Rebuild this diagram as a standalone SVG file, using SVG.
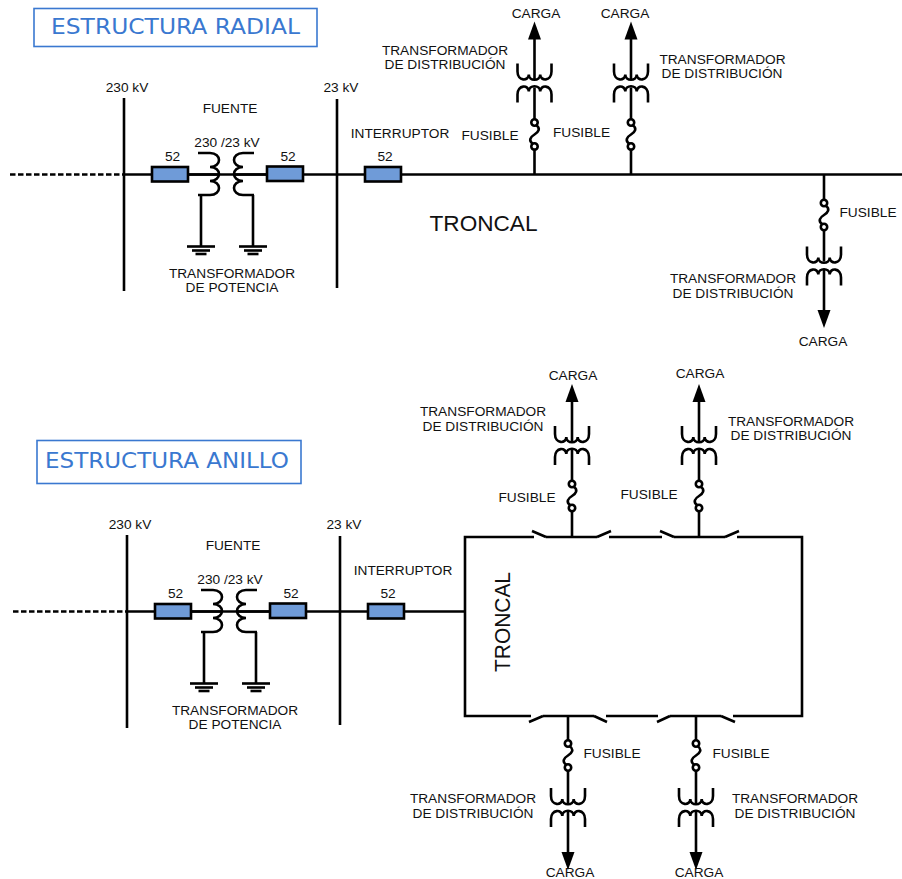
<svg xmlns="http://www.w3.org/2000/svg" width="902" height="879" viewBox="0 0 902 879">
<style>
text{font-family:"Liberation Sans",Arial,sans-serif;font-size:13.7px;fill:#111;text-anchor:middle}
.w{stroke:#000;stroke-width:2.6;fill:none}
.t{stroke:#000;stroke-width:2.6;fill:none}
.d{stroke:#000;stroke-width:2.4;fill:none;stroke-dasharray:5.5 2.5}
.br{fill:#6f9bd8;stroke:#000;stroke-width:2.6}
.title{fill:#fff;stroke:#3a78d0;stroke-width:1.6}
.tt{font-family:"DejaVu Sans",Verdana,sans-serif;font-size:21px;fill:#3a78d0;text-anchor:start}
.big{font-size:21.5px;text-anchor:start}
</style>
<defs>
<path id="arrow" d="M-6.5 0H6.5L0 -18Z" fill="#000"/>
<g id="coil"><path class="t" d="M-17 -111V-103C-17 -93 -5.7 -93 -5.7 -100C-5.7 -93 5.7 -93 5.7 -100C5.7 -93 17 -93 17 -103V-111"/><path class="t" d="M-17 -72V-80C-17 -90 -5.7 -90 -5.7 -83C-5.7 -90 5.7 -90 5.7 -83C5.7 -90 17 -90 17 -80V-72"/></g>
<g id="fuse"><circle class="t" cx="0" cy="-12" r="3.2"/><circle class="t" cx="0" cy="12" r="3.2"/><path class="t" d="M1.5 -9.5C6.500 -6 4 -2.500 0 0C-4 2.500 -6.500 6 -1.500 9.500"/></g>
<g id="gnd"><path class="t" d="M-14 0H14"/><path class="t" d="M-9 4H9"/><path class="t" d="M-5.500 7.500H5.500"/></g>
</defs>

<g id="connectors">
<path class="d" d="M10 174.500H122"/>
<path class="w" d="M122 174.500H902"/>
<path class="w" d="M124 98V291M337 99V288"/>
<path class="w" d="M201 195V246M253 195V246"/>
<path class="w" d="M534.500 174.500V148.500M534.500 119.500V87.500M534.500 79.500V39M631 174.500V148.500M631 119.500V87.500M631 79.500V39M824 174.500V201M824 229V261.500M824 269.500V311"/>
<path class="d" d="M13 611.500H125"/>
<path class="w" d="M125 611.500H465"/>
<path class="w" d="M127 535V728M340 536V725"/>
<path class="w" d="M204 632V683M256 632V683"/>
<path class="w" d="M465 537H534M546 537H597M609 537H662M674 537H725M737 537H803M465 535.700V717.300M802 535.700V717.300M465 716H531M543 716H594M606 716H658M670 716H721M733 716H803"/>
<path class="w" d="M572 537V510.500M572 481.500V450M572 442V402M699 537V510.500M699 481.500V450M699 442V402M568 716V741M568 770V803M568 811V853M696 716V741M696 770V803M696 811V853"/>
</g>

<g id="title-radial"><rect class="title" x="34" y="8.500" width="283" height="38"/><text class="tt" x="51" y="34" textLength="249" lengthAdjust="spacingAndGlyphs">ESTRUCTURA RADIAL</text></g>

<g id="source-radial">
<g id="bus-230-r"><text x="127" y="92">230 kV</text></g>
<g id="bus-23-r"><text x="341" y="92">23 kV</text></g>
<g id="breaker-r1"><rect class="br" x="152" y="167" width="36" height="14.500"/><text x="172.500" y="161">52</text></g>
<g id="breaker-r2"><rect class="br" x="267" y="166.500" width="36" height="14.500"/><text x="288" y="161">52</text></g>
<g id="breaker-r3"><rect class="br" x="365" y="167" width="36" height="14.500"/><text x="385" y="161">52</text></g>
<g id="tx-potencia-r">
<text x="230" y="113">FUENTE</text><text x="227" y="147">230 /23 kV</text>
<path class="t" d="M198 153H210C222 153 222 167 210 167C222 167 222 181 210 181C222 181 222 195 210 195H198"/>
<path class="t" d="M254 153H243C231 153 231 167 243 167C231 167 231 181 243 181C231 181 231 195 243 195H254"/>
<path class="w" d="M188 174.500H218M233 174.500H267"/>
<use href="#gnd" x="201" y="246.500"/><use href="#gnd" x="253" y="246.500"/>
<text x="232" y="278">TRANSFORMADOR</text><text x="232" y="292">DE POTENCIA</text>
</g>
<g id="label-interruptor-r"><text x="400" y="138">INTERRUPTOR</text></g>
<g id="label-troncal-r"><text class="big" x="429.500" y="231" textLength="108" lengthAdjust="spacingAndGlyphs">TRONCAL</text></g>
</g>

<g id="drop-r1"><use href="#fuse" x="534.500" y="134.500"/><use href="#coil" x="534.500" y="174.500"/><use href="#arrow" x="534.500" y="39.500"/>
<text x="536" y="18">CARGA</text><text x="445" y="55">TRANSFORMADOR</text><text x="445" y="69">DE DISTRIBUCIÓN</text><text x="490" y="140">FUSIBLE</text></g>
<g id="drop-r2"><use href="#fuse" x="631" y="134.500"/><use href="#coil" x="631" y="174.500"/><use href="#arrow" x="631" y="39.500"/>
<text x="625" y="18">CARGA</text><text x="722.500" y="64">TRANSFORMADOR</text><text x="722" y="78">DE DISTRIBUCIÓN</text><text x="581.500" y="137">FUSIBLE</text></g>
<g id="drop-r3"><use href="#fuse" x="824" y="215"/><use href="#coil" transform="translate(824 174.500) scale(1 -1)"/><use href="#arrow" transform="translate(824 310) scale(1 -1)"/>
<text x="868" y="217">FUSIBLE</text><text x="733" y="283">TRANSFORMADOR</text><text x="733" y="298">DE DISTRIBUCIÓN</text><text x="823" y="346">CARGA</text></g>

<g id="title-anillo"><rect class="title" x="37" y="440.500" width="264" height="43"/><text class="tt" x="45" y="468" textLength="244" lengthAdjust="spacingAndGlyphs">ESTRUCTURA ANILLO</text></g>

<g id="source-anillo" transform="translate(3 437)">
<g id="bus-230-a"><text x="127" y="92">230 kV</text></g>
<g id="bus-23-a"><text x="341" y="92">23 kV</text></g>
<g id="breaker-a1"><rect class="br" x="152" y="167" width="36" height="14.500"/><text x="172.500" y="161">52</text></g>
<g id="breaker-a2"><rect class="br" x="267" y="166.500" width="36" height="14.500"/><text x="288" y="161">52</text></g>
<g id="breaker-a3"><rect class="br" x="365" y="167" width="36" height="14.500"/><text x="385" y="161">52</text></g>
<g id="tx-potencia-a">
<text x="230" y="113">FUENTE</text><text x="227" y="147">230 /23 kV</text>
<path class="t" d="M198 153H210C222 153 222 167 210 167C222 167 222 181 210 181C222 181 222 195 210 195H198"/>
<path class="t" d="M254 153H243C231 153 231 167 243 167C231 167 231 181 243 181C231 181 231 195 243 195H254"/>
<path class="w" d="M188 174.500H218M233 174.500H267"/>
<use href="#gnd" x="201" y="246.500"/><use href="#gnd" x="253" y="246.500"/>
<text x="232" y="278">TRANSFORMADOR</text><text x="232" y="292">DE POTENCIA</text>
</g>
<g id="label-interruptor-a"><text x="400" y="138">INTERRUPTOR</text></g>
</g>

<g id="ring-switches">
<path class="t" d="M532 531L546 537M597 537L611 531M660 531L674 537M725 537L739 531"/>
<path class="t" d="M529 722L543 716M594 716L607 722M657 722L670 716M721 716L735 722"/>
</g>
<g id="label-troncal-a"><text class="big" transform="translate(510 672) rotate(-90)" textLength="100" lengthAdjust="spacingAndGlyphs">TRONCAL</text></g>

<g id="drop-a1"><use href="#fuse" x="572" y="496"/><use href="#coil" x="572" y="537"/><use href="#arrow" x="572" y="402"/>
<text x="573" y="380">CARGA</text><text x="483" y="416">TRANSFORMADOR</text><text x="483" y="431">DE DISTRIBUCIÓN</text><text x="527" y="502">FUSIBLE</text></g>
<g id="drop-a2"><use href="#fuse" x="699" y="496"/><use href="#coil" x="699" y="537"/><use href="#arrow" x="699" y="402"/>
<text x="700" y="378">CARGA</text><text x="791" y="426">TRANSFORMADOR</text><text x="791" y="440">DE DISTRIBUCIÓN</text><text x="649" y="499">FUSIBLE</text></g>
<g id="drop-a3"><use href="#fuse" x="568" y="755.500"/><use href="#coil" transform="translate(568 716) scale(1 -1)"/><use href="#arrow" transform="translate(568 852) scale(1 -1)"/>
<text x="612" y="758">FUSIBLE</text><text x="473" y="803">TRANSFORMADOR</text><text x="473" y="818">DE DISTRIBUCIÓN</text><text x="570" y="876.500">CARGA</text></g>
<g id="drop-a4"><use href="#fuse" x="696" y="755.500"/><use href="#coil" transform="translate(696 716) scale(1 -1)"/><use href="#arrow" transform="translate(696 852) scale(1 -1)"/>
<text x="741" y="758">FUSIBLE</text><text x="795" y="803">TRANSFORMADOR</text><text x="795" y="818">DE DISTRIBUCIÓN</text><text x="699" y="876.500">CARGA</text></g>
</svg>
